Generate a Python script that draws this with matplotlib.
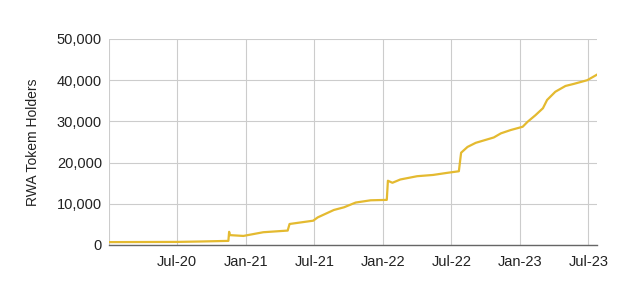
import matplotlib
matplotlib.use("Agg")
import matplotlib.pyplot as plt
import matplotlib.dates as mdates
import matplotlib.ticker as mticker
import pandas as pd

plt.rcParams['font.family'] = ['Liberation Sans', 'DejaVu Sans']

# values
dates = ['2020-01-01', '2020-07-01', '2020-09-01', '2020-11-14', '2020-11-16',
         '2020-11-18', '2020-12-24', '2021-02-15', '2021-04-21', '2021-04-26',
         '2021-06-28', '2021-07-10', '2021-08-22', '2021-09-18', '2021-10-19',
         '2021-11-28', '2022-01-10', '2022-01-13', '2022-01-25', '2022-02-15',
         '2022-04-01', '2022-05-13', '2022-06-19', '2022-07-21', '2022-07-27',
         '2022-08-13', '2022-09-04', '2022-10-22', '2022-11-10', '2022-12-06',
         '2023-01-07', '2023-01-20', '2023-02-10', '2023-03-02', '2023-03-13',
         '2023-04-04', '2023-05-01', '2023-05-23', '2023-06-28', '2023-07-23']
holders = [700, 750, 850, 1000, 3200,
           2400, 2200, 3100, 3500, 5100,
           5900, 6700, 8500, 9150, 10300,
           10850, 10950, 15600, 15100, 15900,
           16700, 17000, 17500, 17900, 22400,
           23800, 24800, 26100, 27100, 27900,
           28700, 29900, 31500, 33200, 35200,
           37200, 38600, 39100, 40000, 41300]

x = pd.to_datetime(dates)

fig = plt.figure(figsize=(6.19, 2.84), dpi=100)
ax = fig.add_axes([109/619, 1 - 245/284, (597-109)/619, (245-39)/284])

ax.plot(x, holders, color='#E4BA30', lw=1.6)

ax.set_xlim(pd.Timestamp('2020-01-01'), pd.Timestamp('2023-07-24'))
ax.set_ylim(0, 50000)
ax.xaxis.set_major_locator(mdates.MonthLocator(bymonth=[1, 7]))
ax.yaxis.set_major_locator(mticker.MultipleLocator(10000))
ax.yaxis.set_major_formatter(mticker.FuncFormatter(lambda v, p: f'{int(v):,}'))

# no label at the left edge (Jan-20)
ticks = ax.get_xticks()
labels = []
for t in ticks:
    d = mdates.num2date(t)
    labels.append('' if (d.year == 2020 and d.month == 1) else d.strftime('%b-%y'))
ax.set_xticks(ticks)
ax.set_xticklabels(labels)

ax.grid(True, color='#cccccc', lw=0.8)
ax.set_axisbelow(True)
for s in ['top', 'right', 'left']:
    ax.spines[s].set_visible(False)
ax.spines['bottom'].set_color('#666666')
ax.spines['bottom'].set_linewidth(1.0)
ax.tick_params(length=0, labelsize=10.5, colors='#222222')
ax.tick_params(axis='x', pad=7)
ax.tick_params(axis='y', pad=5)
ax.set_ylabel('RWA Tokem Holders', fontsize=10, color='#222222', labelpad=12)

fig.savefig('out.png', dpi=100)
